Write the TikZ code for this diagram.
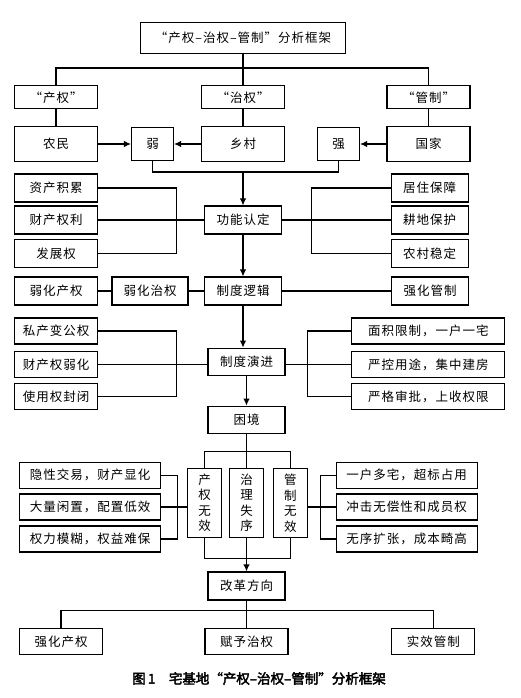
\documentclass[tikz,border=0pt]{standalone}
\usepackage{fontspec}
\setmainfont[LetterSpace=8]{Noto Sans CJK SC}
\newfontfamily\capfont[FakeBold=3]{Noto Sans CJK SC}
\usetikzlibrary{arrows.meta}

\begin{document}
\begin{tikzpicture}[x=1pt,y=-1pt,>={Latex[length=7pt,width=6.5pt]},line width=1.1pt,
  every node/.style={font=\fontsize{12.5}{15.5}\selectfont},
  box/.style={draw,line width=1.2pt,inner sep=0pt,minimum width=83pt,minimum height=28pt},
  mid/.style={box,minimum width=77pt},
  small/.style={box,minimum width=42pt,minimum height=33pt},
  wide/.style={box,minimum width=153pt,minimum height=26pt},
  vert/.style={box,minimum width=34pt,minimum height=69pt,align=center}]
%\tikzstyle{every node}=[font=\small]
\useasboundingbox (0,0) rectangle (520,698);

  \node[box,minimum width=205pt,minimum height=31pt] (title) at (243,38) {“产权–治权–管制”分析框架};
  \node[box,minimum height=23pt] (cq) at (56,97.3)  {“产权”};
  \node[box,minimum height=23pt] (zq) at (243,97.3) {“治权”};
  \node[box,minimum height=23pt] (gz) at (428.5,97.3) {“管制”};

  \node[box,minimum height=35pt] (nm) at (56,144)  {农民};
  \node[small]                   (ruo) at (152.5,144) {弱};
  \node[box,minimum height=35pt] (xc) at (243,144) {乡村};
  \node[small]                   (qiang) at (338.5,144) {强};
  \node[box,minimum height=35pt] (gj) at (428.5,144) {国家};

  \node[box] (zc) at (56,188)   {资产积累};
  \node[box] (cl) at (56,220)   {财产权利};
  \node[box] (fz) at (56,253.5) {发展权};
  \node[mid] (gn) at (243,220)  {功能认定};
  \node[mid] (jz) at (429.7,188)   {居住保障};
  \node[mid] (gd) at (429.7,220)   {耕地保护};
  \node[mid] (wd) at (429.7,253.5) {农村稳定};

  \node[box] (rhcq) at (56,291)    {弱化产权};
  \node[mid,minimum width=76pt] (rhzq) at (150,291) {弱化治权};
  \node[mid] (zdlj) at (243,291)   {制度逻辑};
  \node[mid] (qhgz) at (430,291)   {强化管制};

  \node[box,minimum height=26pt] (sc) at (56,331)   {私产变公权};
  \node[box,minimum height=26pt] (cr) at (56,364.5) {财产权弱化};
  \node[box,minimum height=26pt] (sy) at (56,396.7) {使用权封闭};
  \node[mid,minimum height=27pt] (zdyj) at (246.5,361.7) {制度演进};
  \node[wide] (mj) at (428.3,331)   {面积限制，一户一宅};
  \node[wide] (yk) at (428.3,364.5) {严控用途，集中建房};
  \node[wide] (yg) at (428.3,396.7) {严格审批，上收权限};
  \node[mid,minimum height=27pt] (kj) at (246.5,419.7) {困境};

  \node[vert] (cw) at (204.5,503) {产\\权\\无\\效};
  \node[vert] (zs) at (246.5,503) {治\\理\\失\\序};
  \node[vert] (gw) at (290.3,503) {管\\制\\无\\效};
  \node[wide,minimum width=141pt] (yx) at (90,475.3) {隐性交易，财产显化};
  \node[wide,minimum width=141pt] (dl) at (90,507)   {大量闲置，配置低效};
  \node[wide,minimum width=141pt] (ql) at (90,539)   {权力模糊，权益难保};
  \node[wide,minimum width=141pt] (yh) at (406.7,475.3) {一户多宅，超标占用};
  \node[wide,minimum width=141pt] (cj) at (406.7,507)   {冲击无偿性和成员权};
  \node[wide,minimum width=141pt] (wx) at (406.7,539)   {无序扩张，成本畸高};

  \node[mid] (gg) at (246.5,586) {改革方向};
  \node[box,minimum height=26pt] (qc) at (61,641.3)    {强化产权};
  \node[box,minimum height=26pt] (fy) at (246.5,641.3) {赋予治权};
  \node[box,minimum height=26pt] (sx) at (433.3,641.3) {实效管制};

  \node (cap) at (259,678.5) {\capfont\fontsize{13.5}{15}\selectfont 图\,1\quad 宅基地“产权–治权–管制”分析框架};

  \coordinate (t1) at (243,68);
  \coordinate (j1) at (243,172);
  \coordinate (b1) at (176.7,220);
  \coordinate (b2) at (311.7,220);
  \coordinate (b3) at (176.7,364.5);
  \coordinate (b4) at (307.7,364.5);
  \coordinate (k1) at (246.5,451.7);
  \coordinate (b5) at (177.7,507);
  \coordinate (b6) at (320.7,507);
  \coordinate (k2) at (246.5,558.3);
  \coordinate (g1) at (246.5,610.7);

  \draw (title) -- (zq);
  \draw (cq) |- (t1) -| (gz);
  \draw (cq) -- (nm);
  \draw (zq) -- (xc);
  \draw (gz) -- (gj);
  \draw[->] (nm) -- (ruo);
  \draw[->] (xc) -- (ruo);
  \draw[->] (gj) -- (qiang);
  \draw (ruo) |- (j1) -| (qiang);
  \draw[->] (j1) -- (gn);

  \draw (zc) -| (b1) |- (fz);
  \draw (cl) -- (gn);
  \draw (jz) -| (b2) |- (wd);
  \draw (gn) -- (gd);
  \draw[->] (gn) -- (zdlj);

  \draw (rhcq) -- (rhzq) -- (zdlj) -- (qhgz);
  \draw[->] (zdlj.south) -- (zdlj.south |- zdyj.north);

  \draw (sc) -| (b3) |- (sy);
  \draw (cr.east) -- (cr.east -| zdyj.west);
  \draw (mj) -| (b4) |- (yg);
  \draw (yk.west) -- (yk.west -| zdyj.east);
  \draw[->] (zdyj) -- (kj);

  \draw (kj) -- (k1);
  \draw (cw) |- (k1) -| (gw);
  \draw (k1) -- (zs);
  \draw (yx) -| (b5) |- (ql);
  \draw (dl.east) -- (dl.east -| cw.west);
  \draw (yh) -| (b6) |- (wx);
  \draw (cj.west) -- (cj.west -| gw.east);
  \draw (cw) |- (k2) -| (gw);
  \draw[->] (zs) -- (gg);

  \draw (gg) -- (g1);
  \draw (qc) |- (g1) -| (sx);
  \draw (g1) -- (fy);
\end{tikzpicture}
\end{document}
